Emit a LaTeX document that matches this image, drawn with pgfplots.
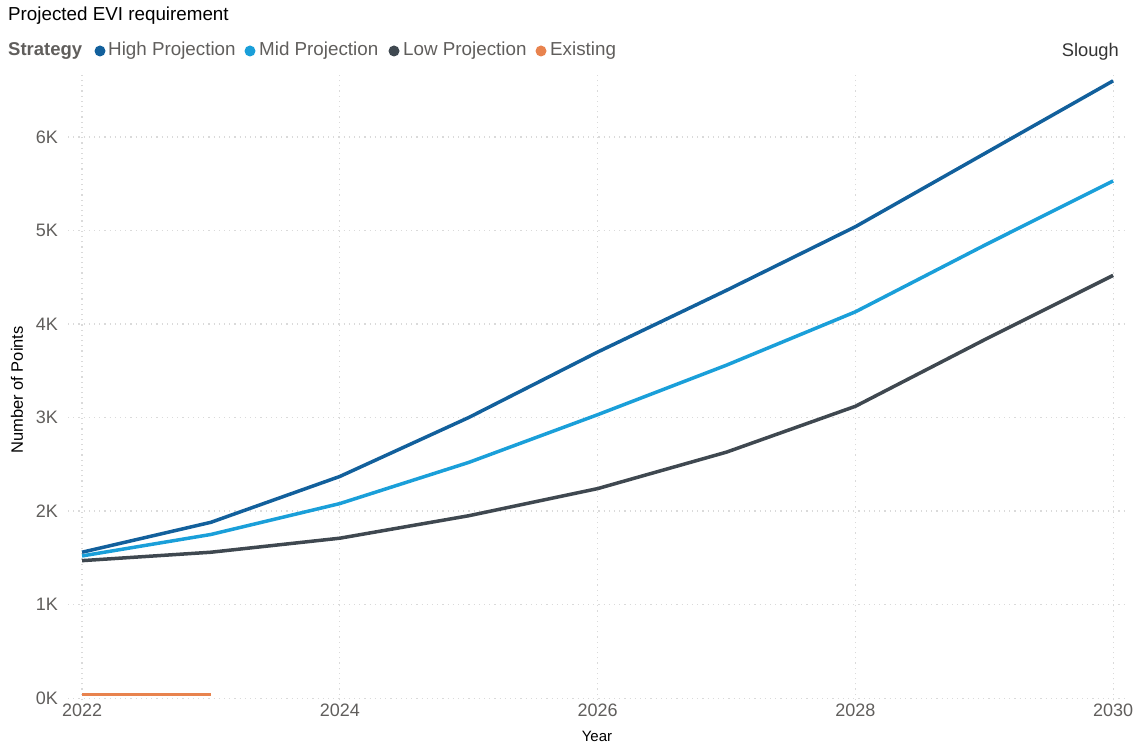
\documentclass[border=0pt]{standalone}
\usepackage{pgfplots}
\pgfplotsset{compat=1.18}
\usepackage{fontspec}
\setmainfont{Liberation Sans}
\definecolor{cHigh}{HTML}{12609C}
\definecolor{cMid}{HTML}{1A9FD9}
\definecolor{cLow}{HTML}{3F4850}
\definecolor{cExist}{HTML}{E8834E}
\definecolor{cTick}{HTML}{605E5C}
\definecolor{cGrid}{HTML}{DADADA}
\begin{document}
\begin{tikzpicture}
\path[use as bounding box] (0,0) rectangle (1143pt,747pt);
\begin{axis}[
  at={(68pt,47pt)}, anchor=south west,
  scale only axis, width=1057pt, height=628.5pt,
  xmin=2021.891, xmax=2030.093,
  ymin=-20, ymax=6700,
  axis line style={draw=none},
  major tick length=0pt, tick style={draw=none},
  xtick={2022,2024,2026,2028,2030},
  xticklabels={2022,2024,2026,2028,2030},
  ytick={0,1000,2000,3000,4000,5000,6000},
  yticklabels={0K,1K,2K,3K,4K,5K,6K},
  xmajorgrids, ymajorgrids,
  grid style={cGrid, line width=1.2pt, dash pattern=on 1.2pt off 4pt},
  ticklabel style={font=\fontsize{18}{20}\selectfont, text=cTick},
  yticklabel style={anchor=east, inner sep=0pt, xshift=-10pt},
  xticklabel style={anchor=north, inner sep=0pt, yshift=-4pt},
  clip=false,
]
\addplot[cExist, line width=3.5pt] coordinates {(2022,40) (2023,40)};
\addplot[cLow, line width=3.5pt] coordinates {
(2022,1470) (2023,1560) (2024,1710) (2025,1950) (2026,2240) (2027,2630) (2028,3120) (2029,3830) (2030,4520)};
\addplot[cMid, line width=3.5pt] coordinates {
(2022,1520) (2023,1750) (2024,2080) (2025,2520) (2026,3030) (2027,3560) (2028,4130) (2029,4840) (2030,5530)};
\addplot[cHigh, line width=3.5pt] coordinates {
(2022,1560) (2023,1880) (2024,2370) (2025,3000) (2026,3700) (2027,4360) (2028,5040) (2029,5820) (2030,6600)};
\end{axis}
% title and labels
\node[anchor=west, inner sep=0pt, font=\fontsize{18.8}{21}\selectfont] at (8pt,731pt) {Projected EVI requirement};
\node[anchor=east, inner sep=0pt, font=\fontsize{18.3}{20}\selectfont, text=black!80] at (1119pt,695pt) {Slough};
\node[inner sep=0pt, font=\fontsize{15}{17}\selectfont] at (597pt,11pt) {Year};
\node[inner sep=0pt, rotate=90, font=\fontsize{16.5}{18}\selectfont] at (17pt,357pt) {Number of Points};
% legend
\node[anchor=west, inner sep=0pt, font=\bfseries\fontsize{18.5}{20}\selectfont, text=cTick] at (8pt,696pt) {Strategy};
\fill[cHigh] (100pt,696pt) circle (5.5pt);
\node[anchor=west, inner sep=0pt, font=\fontsize{18.8}{20}\selectfont, text=cTick] at (108pt,696pt) {High Projection};
\fill[cMid] (250pt,696pt) circle (5.5pt);
\node[anchor=west, inner sep=0pt, font=\fontsize{18.8}{20}\selectfont, text=cTick] at (259pt,696pt) {Mid Projection};
\fill[cLow] (394pt,696pt) circle (5.5pt);
\node[anchor=west, inner sep=0pt, font=\fontsize{18.8}{20}\selectfont, text=cTick] at (403pt,696pt) {Low Projection};
\fill[cExist] (541pt,696pt) circle (5.5pt);
\node[anchor=west, inner sep=0pt, font=\fontsize{18.8}{20}\selectfont, text=cTick] at (550pt,696pt) {Existing};
\end{tikzpicture}
\end{document}
